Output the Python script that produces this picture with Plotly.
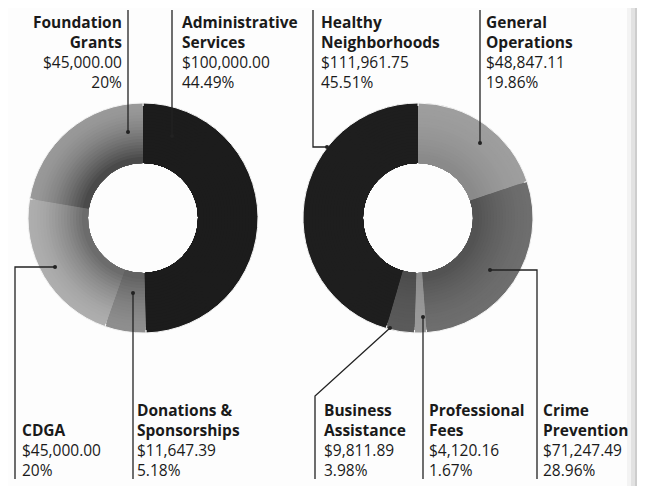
import plotly.graph_objects as go

# ---- data ----
left_labels = ["Administrative Services", "Donations & Sponsorships", "CDGA", "Foundation Grants"]
left_values = [100000.00, 11647.39, 45000.00, 45000.00]
left_pct_text = ["44.49%", "5.18%", "20%", "20%"]
left_colors = ["#1c1c1c", "#8e8e8e", "#aeaeae", "#999999"]
left_inner_colors = ["#1c1c1c", "#5a5a5a", "#606060", "#3c3c3c"]

right_labels = ["General Operations", "Crime Prevention", "Professional Fees",
                "Business Assistance", "Healthy Neighborhoods"]
right_values = [48847.11, 71247.49, 4120.16, 9811.89, 111961.75]
right_pct_text = ["19.86%", "28.96%", "1.67%", "3.98%", "45.51%"]
right_colors = ["#9e9e9e", "#6e6e6e", "#9a9a9a", "#5a5a5a", "#1e1e1e"]
right_inner_colors = ["#868686", "#4e4e4e", "#8a8a8a", "#4a4a4a", "#1e1e1e"]

# page size and the browser's default body margin (compensated so that
# coordinates below are page pixels)
PW, PH, OFF = 645, 486, 8
W, H = PW - OFF, PH - OFF
R_OUT, R_IN = 115, 55

def money(v):
    return "${:,.2f}".format(v)

def blend(c1, c2, t):
    a = [int(c1[i:i + 2], 16) for i in (1, 3, 5)]
    b = [int(c2[i:i + 2], 16) for i in (1, 3, 5)]
    return "#%02x%02x%02x" % tuple(round(a[k] + (b[k] - a[k]) * t) for k in range(3))

fig = go.Figure()

def dom(cx, cy, r):
    return dict(x=[(cx - r - OFF) / W, (cx + r - OFF) / W],
                y=[1 - (cy + r - OFF) / H, 1 - (cy - r - OFF) / H])

# each donut = a base ring plus thinner inner rings that darken towards the hole
RADII = list(range(R_OUT, R_IN + 3, -3))
for labels, values, colors, inner, (cx, cy) in [
    (left_labels, left_values, left_colors, left_inner_colors, (143, 218)),
    (right_labels, right_values, right_colors, right_inner_colors, (418, 218)),
]:
    for r in RADII:
        base = r == R_OUT
        t = ((R_OUT - r) / (R_OUT - R_IN)) ** 1.6
        fig.add_trace(go.Pie(
            labels=labels, values=values, sort=False, direction="clockwise", rotation=0,
            hole=R_IN / r, textinfo="none",
            hoverinfo="label+value" if base else "skip", showlegend=False,
            marker=dict(colors=[blend(c, d, t) for c, d in zip(colors, inner)],
                        line=dict(color="#f4f4f4", width=1 if base else 0)),
            domain=dom(cx, cy, r),
        ))

fig.add_trace(go.Scatter(x=[OFF, PW], y=[OFF, PH], mode="markers", marker=dict(opacity=0),
                         showlegend=False, hoverinfo="skip"))

FS = 15.5
font_r = dict(family="Open Sans", size=FS, color="#1a1a1a")

lv = dict(zip(left_labels, zip(left_values, left_pct_text)))
rv = dict(zip(right_labels, zip(right_values, right_pct_text)))

# (label, source, name lines, x, xanchor, y, yanchor, leader path, dot)
specs = [
    ("Foundation Grants", lv, ["Foundation", "Grants"], 124, "right", 8.5, "top",
     "M 128 10 L 128 132", (128, 132)),
    ("Administrative Services", lv, ["Administrative", "Services"], 180, "left", 8.5, "top",
     "M 172 10 L 172 136", (172, 136)),
    ("Healthy Neighborhoods", rv, ["Healthy", "Neighborhoods"], 319, "left", 8.5, "top",
     "M 313 10 L 313 147 L 327 147", (327, 147)),
    ("General Operations", rv, ["General", "Operations"], 484, "left", 8.5, "top",
     "M 480 10 L 480 143", (480, 143)),
    ("CDGA", lv, ["CDGA"], 20, "left", 482.5, "bottom",
     "M 15 479 L 15 267 L 55 267", (55, 267)),
    ("Donations & Sponsorships", lv, ["Donations &", "Sponsorships"], 135, "left", 482.5, "bottom",
     "M 133 479 L 133 293", (133, 293)),
    ("Business Assistance", rv, ["Business", "Assistance"], 322, "left", 482.5, "bottom",
     "M 315 479 L 315 396 L 390 328", (390, 328)),
    ("Professional Fees", rv, ["Professional", "Fees"], 427, "left", 482.5, "bottom",
     "M 423 479 L 423 317", (423, 317)),
    ("Crime Prevention", rv, ["Crime", "Prevention"], 541, "left", 482.5, "bottom",
     "M 537 479 L 537 270 L 490 270", (490, 270)),
]

shapes = []
annotations = []
for key, src, name, x, xa, y, ya, path, dot in specs:
    val, pct = src[key]
    lines = ["<b>%s</b>" % n for n in name] + [money(val), pct]
    annotations.append(dict(
        x=x, y=y, xref="x", yref="y", xanchor=xa, yanchor=ya, align=xa,
        showarrow=False, text="<br>".join(lines), font=font_r,
    ))
    shapes.append(dict(type="path", path=path, xref="x", yref="y",
                       line=dict(color="#222222", width=1.3), layer="above"))
    shapes.append(dict(type="circle", xref="x", yref="y",
                       x0=dot[0] - 2, x1=dot[0] + 2, y0=dot[1] - 2, y1=dot[1] + 2,
                       fillcolor="#222222", line=dict(width=0), layer="above"))

# scanned page edge on the right
for x0, x1, c in [(627, 631, "#f3f3f3"), (631, 635, "#e2e2e2"), (635, 639, "#cdcdcd"),
                  (639, 643, "#b8b8b8"), (643, 646, "#c4c4c4")]:
    shapes.append(dict(type="rect", xref="x", yref="y", x0=x0, x1=x1, y0=OFF, y1=PH,
                       fillcolor=c, line=dict(width=0), layer="below"))

fig.update_layout(
    width=W, height=H, margin=dict(l=0, r=0, t=0, b=0),
    paper_bgcolor="#fdfdfd", plot_bgcolor="rgba(0,0,0,0)",
    xaxis=dict(range=[OFF, PW], visible=False, fixedrange=True),
    yaxis=dict(range=[PH, OFF], visible=False, fixedrange=True),
    shapes=shapes, annotations=annotations, showlegend=False,
)

fig.write_html("out.html")
